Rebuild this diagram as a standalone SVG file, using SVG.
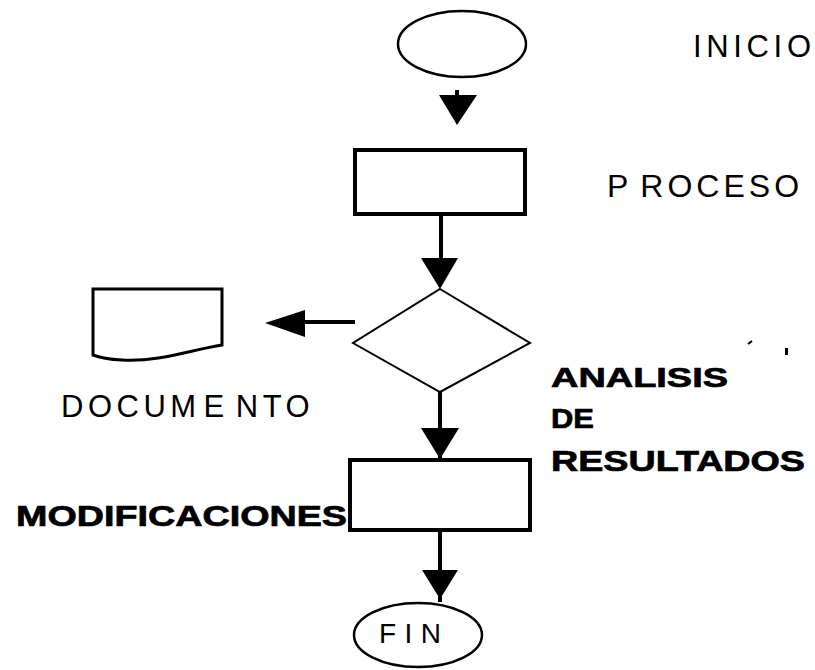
<svg xmlns="http://www.w3.org/2000/svg" width="815" height="670" viewBox="0 0 815 670">
<style>
.shape{fill:#fff;stroke:#000}
.thin{font-family:"Liberation Sans",Arial,sans-serif;font-weight:normal;fill:#000}
.bold{font-family:"Liberation Sans",Arial,sans-serif;font-weight:bold;fill:#000;stroke:#000;stroke-width:0.7}
.conn{stroke:#000;stroke-width:4;fill:none}
.head{fill:#000;stroke:none}
</style>
<rect width="815" height="670" fill="#fff"/>
<g id="inicio">
<ellipse class="shape" cx="462" cy="44" rx="64" ry="33" stroke-width="2.5"/>
<text class="thin" x="693" y="57" font-size="31" textLength="118">INICIO</text>
</g>
<g id="proceso">
<rect class="shape" x="355" y="150" width="170" height="64" stroke-width="4"/>
<text class="thin" x="607" y="197" font-size="32" letter-spacing="4">P<tspan dx="8">ROCESO</tspan></text>
</g>
<g id="decision">
<polygon class="shape" points="440,289 530,343 440,392 353,343" stroke-width="2"/>
<text class="bold" x="551" y="387" font-size="28" textLength="177" lengthAdjust="spacingAndGlyphs">ANALISIS</text>
<text class="bold" x="551" y="428" font-size="28" textLength="43" lengthAdjust="spacingAndGlyphs">DE</text>
<text class="bold" x="551" y="471" font-size="29" textLength="254" lengthAdjust="spacingAndGlyphs">RESULTADOS</text>
<path d="M748,344 L752,341" stroke="#000" stroke-width="2"/>
<rect x="785" y="348" width="3" height="7" fill="#000"/>
</g>
<g id="documento">
<path class="shape" d="M93,289 H222 V345 C190,350 160,362 122,360 Q103,359 93,355 Z" stroke-width="3"/>
<text class="thin" x="61" y="417" font-size="31" letter-spacing="4.5">DOCUM<tspan dx="3">E</tspan><tspan dx="7">NTO</tspan></text>
</g>
<g id="modificaciones">
<rect class="shape" x="350" y="460" width="180" height="70" stroke-width="4"/>
<text class="bold" x="16" y="526" font-size="29" textLength="331" lengthAdjust="spacingAndGlyphs">MODIFICACIONES</text>
</g>
<g id="fin">
<ellipse class="shape" cx="418" cy="635" rx="64" ry="32" stroke-width="2.5"/>
<text class="thin" x="379" y="643" font-size="28" textLength="62">FIN</text>
</g>
<g id="connectors">
<path class="conn" d="M457,90 V100"/>
<polygon class="head" points="439,95 477,95 457,125"/>
<path class="conn" d="M441,216 V262"/>
<polygon class="head" points="421,258 458,258 440,289"/>
<path class="conn" d="M440,392 V460"/>
<polygon class="head" points="421,428 459,428 440,459"/>
<path class="conn" d="M440,530 V602"/>
<polygon class="head" points="422,570 458,570 440,599"/>
<path class="conn" d="M355,322 H300" stroke-width="3"/>
<polygon class="head" points="305,310 305,337 265,323"/>
</g>
</svg>
